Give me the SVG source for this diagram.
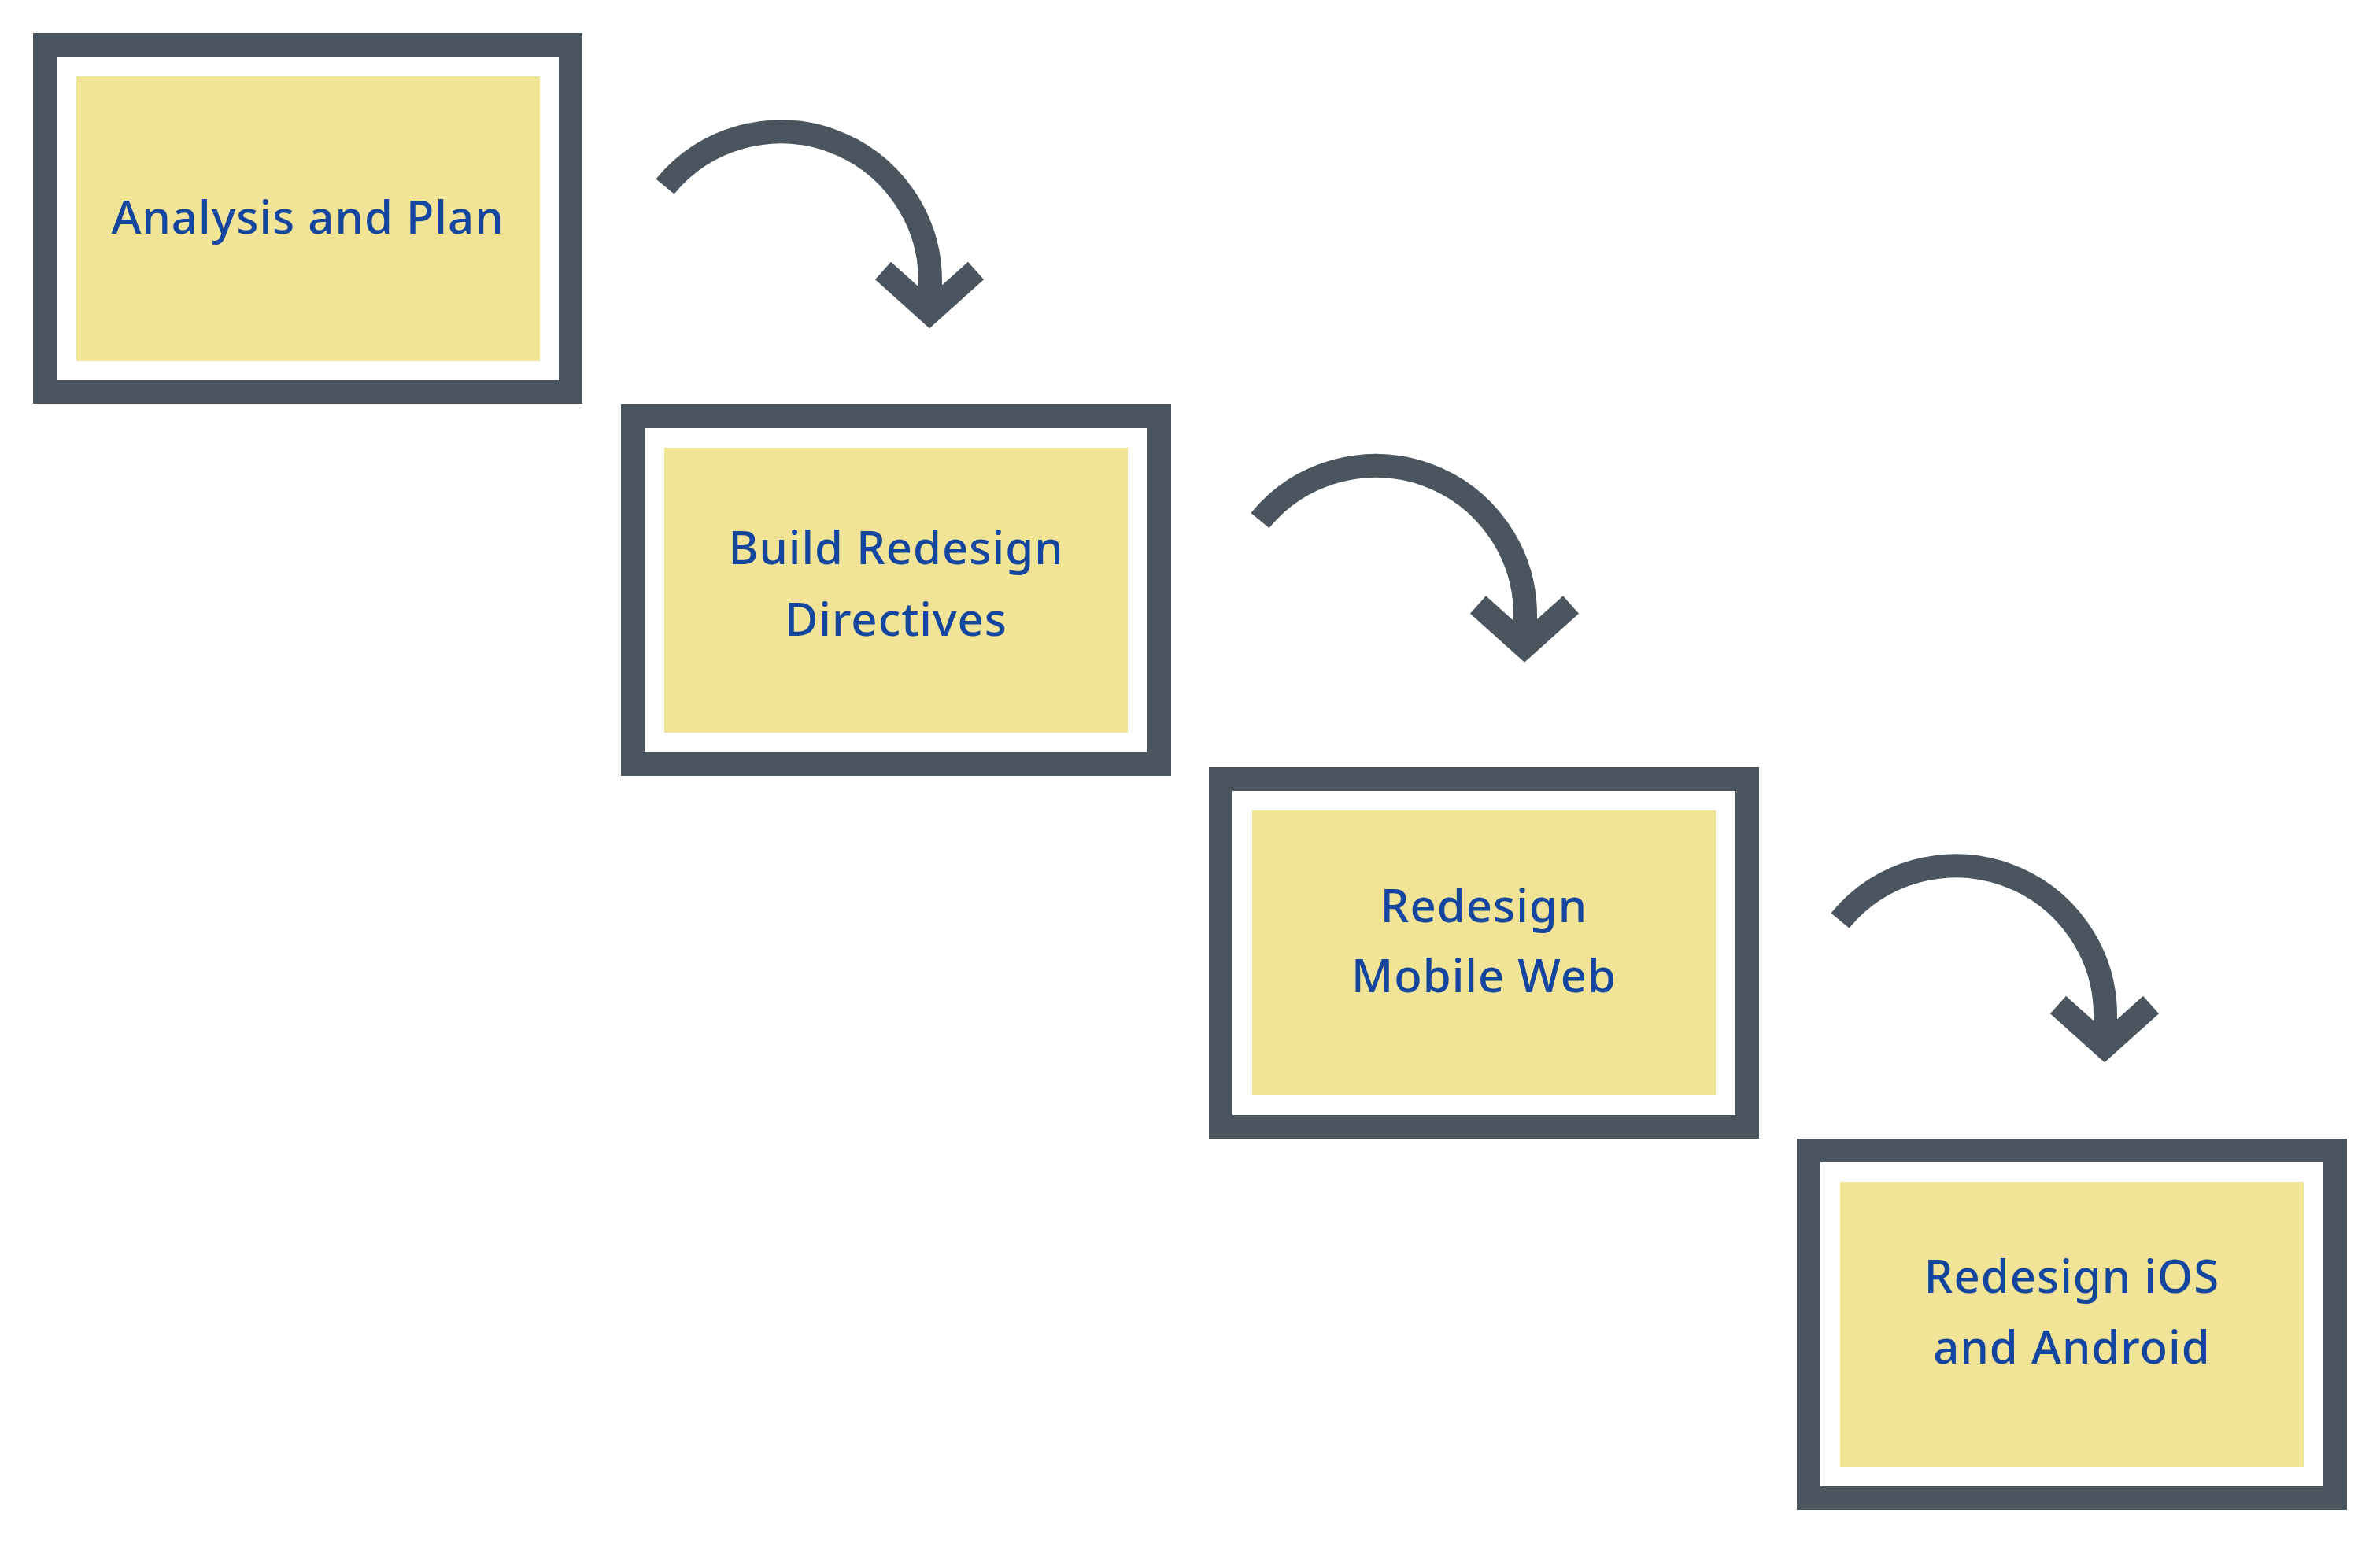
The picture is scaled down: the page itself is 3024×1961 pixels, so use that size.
<svg xmlns="http://www.w3.org/2000/svg" width="3024" height="1961" viewBox="0 0 3024 1961">
  <style>
    .frame { fill: #ffffff; stroke: #4a5560; stroke-width: 30; }
    .card { fill: #f2e496; stroke: none; }
    .label { font-family: "Noto Sans", "Liberation Sans", sans-serif; font-size: 58px; font-weight: 500; letter-spacing: 1px; fill: #1446a0; text-anchor: middle; }
    .arc { fill: none; stroke: #4a5560; stroke-width: 30; stroke-linecap: butt; }
    .head { fill: none; stroke: #4a5560; stroke-width: 30; stroke-linecap: butt; stroke-linejoin: miter; stroke-miterlimit: 10; }
  </style>
  <defs>
    <g id="arrow">
      <path class="arc" d="M845,237 A190,190 0 0 1 1182,358 L1182,397"/>
      <polyline class="head" points="1122,344 1181,397 1240,344"/>
    </g>
  </defs>
  <rect x="0" y="0" width="3024" height="1961" fill="#ffffff"/>

  <g id="connectors">
    <use href="#arrow"/>
    <use href="#arrow" transform="translate(756,424.5)"/>
    <use href="#arrow" transform="translate(1493,933)"/>
  </g>

  <g id="node-analysis">
    <rect class="frame" x="57" y="57" width="668" height="441"/>
    <rect class="card" x="97" y="97" width="589" height="362"/>
    <text class="label" x="391" y="297">Analysis and Plan</text>
  </g>

  <g id="node-build">
    <rect class="frame" x="804" y="529" width="669" height="442"/>
    <rect class="card" x="844" y="569" width="589" height="362"/>
    <text class="label" x="1138.5" y="716.5">Build Redesign</text>
    <text class="label" x="1138.5" y="807.5">Directives</text>
  </g>

  <g id="node-mobile">
    <rect class="frame" x="1551" y="990" width="669" height="442"/>
    <rect class="card" x="1591" y="1030" width="589" height="362"/>
    <text class="label" x="1885.5" y="1171.5">Redesign</text>
    <text class="label" x="1885.5" y="1260.5">Mobile Web</text>
  </g>

  <g id="node-ios">
    <rect class="frame" x="2298" y="1462" width="669" height="442"/>
    <rect class="card" x="2338" y="1502" width="589" height="362"/>
    <text class="label" x="2632.5" y="1643">Redesign iOS</text>
    <text class="label" x="2632.5" y="1732.5">and Android</text>
  </g>
</svg>
